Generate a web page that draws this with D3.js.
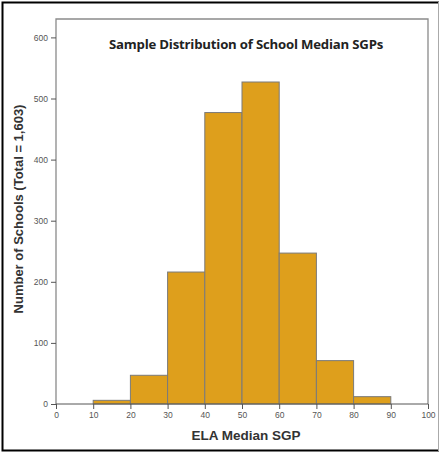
<!DOCTYPE html>
<html lang="en">
<head>
  <meta charset="UTF-8">
  <title>Sample Distribution of School Median SGPs</title>
  <style>
    body { margin: 0; background: #fff; }
    .tick text { fill: #555; font: 8.5px "Liberation Sans", Arial, sans-serif; }
    .tick line { stroke: #555; }
    .domain { display: none; }
  </style>
</head>
<body>
  <div id="chart"></div>
  <script src="https://d3js.org/d3.v7.min.js"></script>
  <script>
    // bins of ELA median SGP and school counts
    const binStart = [10, 20, 30, 40, 50, 60, 70, 80];
    const binEnd = [20, 30, 40, 50, 60, 70, 80, 90];
    const counts = [6, 47, 216, 477, 527, 247, 71, 12];
    const xTicks = [0, 10, 20, 30, 40, 50, 60, 70, 80, 90, 100];
    const yTicks = [0, 100, 200, 300, 400, 500, 600];

    const W = 444, H = 454;
    const pLeft = 56, pRight = 428, pTop = 19, pBottom = 404;

    const svg = d3.select('#chart').append('svg')
      .attr('width', W)
      .attr('height', H);

    const x = d3.scaleLinear().domain([0, 100]).range([pLeft, pRight]);
    const y = d3.scaleLinear().domain([0, 600]).range([pBottom, pBottom - 366.6]);

    // outer box
    svg.append('path')
      .attr('d', 'M439,2.5 H2.5 V450.5 H439')
      .attr('fill', 'none')
      .attr('stroke', '#000')
      .attr('stroke-width', 2);
    svg.append('line')
      .attr('x1', 438.5).attr('x2', 438.5)
      .attr('y1', 2).attr('y2', 451)
      .attr('stroke', '#aaa');

    // bars
    svg.selectAll('rect.bar')
      .data(counts)
      .enter()
      .append('rect')
      .attr('class', 'bar')
      .attr('x', (d, i) => x(binStart[i]))
      .attr('width', (d, i) => x(binEnd[i]) - x(binStart[i]))
      .attr('y', d => y(d))
      .attr('height', d => pBottom - y(d))
      .attr('fill', '#DE9F1C')
      .attr('stroke', '#7a7a7a')
      .attr('stroke-width', 1);

    // plot frame
    svg.append('path')
      .attr('d', `M${pLeft},${pBottom} V${pTop} H${pRight} V${pBottom}`)
      .attr('fill', 'none')
      .attr('stroke', '#8a8a8a')
      .attr('stroke-width', 1.3);
    svg.append('line')
      .attr('x1', pLeft).attr('x2', pRight)
      .attr('y1', pBottom).attr('y2', pBottom)
      .attr('stroke', '#555');

    // axes
    svg.append('g')
      .attr('transform', 'translate(' + pLeft + ',0)')
      .call(d3.axisLeft(y).tickValues(yTicks).tickSize(5).tickPadding(3));
    svg.append('g')
      .attr('transform', 'translate(0,' + pBottom + ')')
      .call(d3.axisBottom(x).tickValues(xTicks).tickSize(5).tickPadding(3));

    // title
    svg.append('text')
      .attr('x', 246).attr('y', 49)
      .attr('text-anchor', 'middle')
      .style('font', 'bold 13.2px "Open Sans", sans-serif')
      .style('letter-spacing', '-0.2px')
      .attr('fill', '#222')
      .text('Sample Distribution of School Median SGPs');

    // axis titles
    svg.append('text')
      .attr('x', 246).attr('y', 440)
      .attr('text-anchor', 'middle')
      .style('font', 'bold 13.5px "Liberation Sans", Arial, sans-serif')
      .attr('fill', '#333')
      .text('ELA Median SGP');

    svg.append('text')
      .attr('transform', 'translate(23,209) rotate(-90)')
      .attr('text-anchor', 'middle')
      .style('font', 'bold 13px "Liberation Sans", Arial, sans-serif')
      .attr('fill', '#333')
      .text('Number of Schools (Total = 1,603)');
  </script>
</body>
</html>
